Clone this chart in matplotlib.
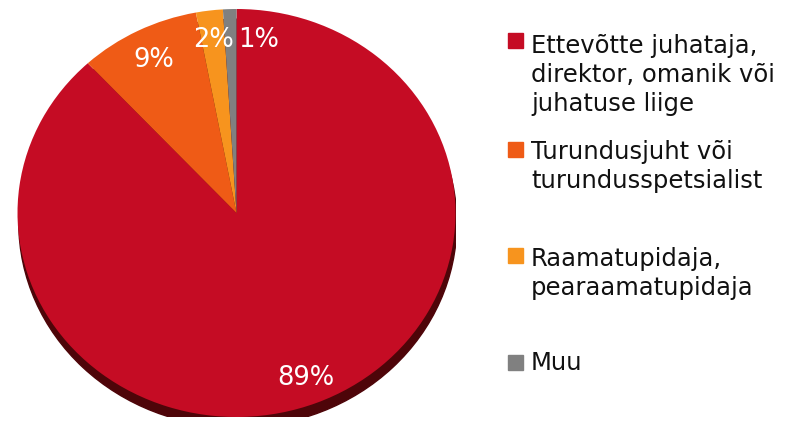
import numpy as np
import matplotlib.pyplot as plt
from matplotlib.patches import Ellipse, Rectangle

categories = ['Ettevõtte juhataja,\ndirektor, omanik või\njuhatuse liige',
              'Turundusjuht või\nturundusspetsialist',
              'Raamatupidaja,\npearaamatupidaja',
              'Muu']
shares = [89, 9, 2, 1]
colors = ['#C50C24', '#EF5B16', '#F7941E', '#808080']

plt.rcParams['font.family'] = ['DejaVu Sans']

fig = plt.figure(figsize=(8.04, 4.28), dpi=100)
W, H = 804, 428
# pie area in pixels: x 17.5..455.5, y 9..417
ax = fig.add_axes([17.5 / W, (H - 417) / H, 438 / W, 408 / H])

# drop shadow under the pie
ax.add_patch(Ellipse((0.006, -0.05), 2, 2, color='#4E0509', zorder=0))

wedges, _ = ax.pie(shares, colors=colors, startangle=90, counterclock=False,
                   radius=1, wedgeprops=dict(linewidth=0))
for w in wedges:
    w.set_zorder(1)

ax.set_aspect('auto')
ax.set_xlim(-1, 1)
ax.set_ylim(-1, 1)
ax.axis('off')

# percentage labels
label_r = [0.87, 0.84, 0.855, 0.855]
label_shift = [0, 0, 0, -8.5]
for w, v, r, s in zip(wedges, shares, label_r, label_shift):
    mid = np.deg2rad((w.theta1 + w.theta2) / 2 + s)
    ax.text(r * np.cos(mid), r * np.sin(mid), f'{v}%', color='white',
            fontsize=18.5, ha='center', va='center', zorder=3)

# legend: square sits on first-line baseline, text anchored on last baseline
first_base = [48.3, 156.7, 263.3, 370]
line_gap = 31.5
for cat, col, y in zip(categories, colors, first_base):
    n = cat.count('\n')
    fig.patches.append(Rectangle((508 / W, 1 - y / H), 15 / W, 15 / H,
                                 transform=fig.transFigure, color=col))
    fig.text(531 / W, 1 - (y + n * line_gap) / H, cat, fontsize=17.5,
             color='#111111', va='baseline', ha='left', linespacing=1.26)

fig.savefig('out.png', dpi=100)
